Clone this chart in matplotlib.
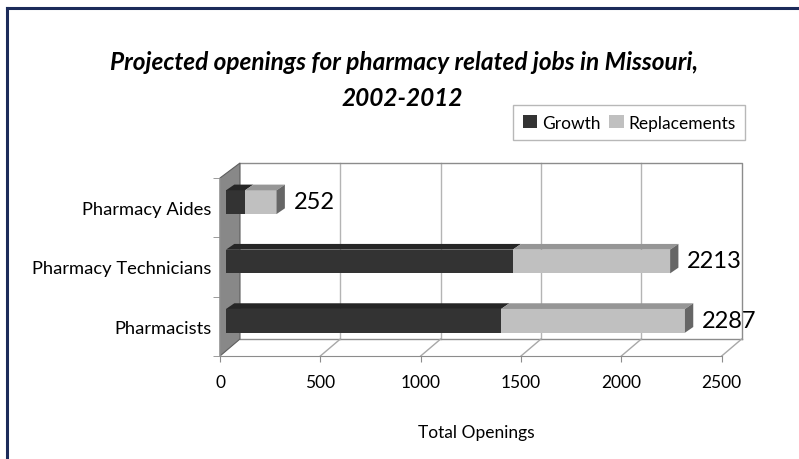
import matplotlib
matplotlib.use("Agg")
import matplotlib.pyplot as plt
import matplotlib.transforms as mtransforms
from matplotlib.patches import Polygon, Patch
from matplotlib.lines import Line2D

# ---- data ----
categories = ["Pharmacists", "Pharmacy Technicians", "Pharmacy Aides"]
growth = [1371, 1429, 95]
replacements = [916, 784, 157]
totals = [2287, 2213, 252]
xticks = [0, 500, 1000, 1500, 2000, 2500]
title_lines = ["Projected openings for pharmacy related jobs in Missouri,", "2002-2012"]
xlabel = "Total Openings"
series_names = ["Growth", "Replacements"]

plt.rcParams['font.family'] = ['Lato', 'DejaVu Sans']

W, H = 799, 460
fig = plt.figure(figsize=(W / 100, H / 100), dpi=100)
fig.patch.set_facecolor('white')

ax = fig.add_axes([220 / W, 1 - 357 / H, 501.7 / W, 178 / H])
ax.set_xlim(0, 2500)
ax.set_ylim(-0.5, 2.5)
ax.set_facecolor('none')

ident = mtransforms.IdentityTransform()


def P(x, y, dx=0.0, dy=0.0):
    px, py = ax.transData.transform((x, y))
    return (px + dx, py + dy)


def back(y):
    # depth offset of back wall (pixels)
    return 20.0, 17.0 - 2.0 * (y + 0.5) / 3.0


ymin, ymax = -0.5, 2.5
bdx0, bdy0 = back(ymin)
bdx1, bdy1 = back(ymax)

# back wall
ax.add_patch(Polygon([P(0, ymin, bdx0, bdy0), P(2500, ymin, bdx0, bdy0),
                      P(2500, ymax, bdx1, bdy1), P(0, ymax, bdx1, bdy1)],
                     closed=True, transform=ident, facecolor='white',
                     edgecolor='none', clip_on=False, zorder=0.5))
# gridlines on back wall
for t in xticks[1:-1]:
    ax.add_line(Line2D(*zip(P(t, ymin, bdx0, bdy0), P(t, ymax, bdx1, bdy1)),
                       transform=ident, color='#b4b4b4', lw=1.0, clip_on=False, zorder=0.6))
# back wall outline (top & right)
ax.add_line(Line2D(*zip(P(0, ymax, bdx1, bdy1), P(2500, ymax, bdx1, bdy1),
                        P(2500, ymin, bdx0, bdy0)),
                   transform=ident, color='#8c8c8c', lw=1.0, clip_on=False, zorder=0.7))
# floor: back line, diagonals
ax.add_line(Line2D(*zip(P(0, ymin, bdx0, bdy0), P(2500, ymin, bdx0, bdy0)),
                   transform=ident, color='#8c8c8c', lw=1.0, clip_on=False, zorder=0.7))
for t in xticks[1:]:
    ax.add_line(Line2D(*zip(P(t, ymin), P(t, ymin, bdx0, bdy0)),
                       transform=ident, color='#a8a8a8', lw=1.0, clip_on=False, zorder=0.7))

# left side wall
ax.add_patch(Polygon([P(0, ymin), P(0, ymin, bdx0, bdy0), P(0, ymax, bdx1, bdy1), P(0, ymax)],
                     closed=True, transform=ident, facecolor='#888888',
                     edgecolor='#5e5e5e', lw=0.8, clip_on=False, zorder=1))

# ---- bars ----
fdx, fdy = 6.0, 5.5      # bar front face offset (px)
bdx, bdy = 14.3, 11.2    # bar back face offset (px)
bh = 0.4
face_off = ax.transData + mtransforms.ScaledTranslation(fdx / 100, fdy / 100, fig.dpi_scale_trans)
ypos = list(range(len(categories)))

front_cols = ['#333333', '#c0c0c0']
top_cols = ['#262626', '#969696']
side_col = '#666666'

lefts = [0] * len(categories)
for si, vals in enumerate([growth, replacements]):
    ax.barh(ypos, vals, height=bh, left=lefts, color=front_cols[si],
            transform=face_off, clip_on=False, zorder=3, linewidth=0)
    for i, (l, v) in enumerate(zip(lefts, vals)):
        yt = ypos[i] + bh / 2
        ax.add_patch(Polygon([P(l, yt, fdx, fdy), P(l + v, yt, fdx, fdy),
                              P(l + v, yt, bdx, bdy), P(l, yt, bdx, bdy)],
                             closed=True, transform=ident, facecolor=top_cols[si],
                             edgecolor='none', clip_on=False, zorder=3))
    lefts = [l + v for l, v in zip(lefts, vals)]

# right end faces
for i, t in enumerate(lefts):
    yb, yt = ypos[i] - bh / 2, ypos[i] + bh / 2
    ax.add_patch(Polygon([P(t, yb, fdx, fdy), P(t, yt, fdx, fdy),
                          P(t, yt, bdx, bdy), P(t, yb, bdx, bdy)],
                         closed=True, transform=ident, facecolor=side_col,
                         edgecolor='none', clip_on=False, zorder=3))

# value labels
lab_off = ax.transData + mtransforms.ScaledTranslation((fdx + 17) / 100, (fdy + 0.5) / 100,
                                                       fig.dpi_scale_trans)
for i, t in enumerate(totals):
    ax.text(lefts[i], ypos[i], str(t), transform=lab_off, ha='left', va='center',
            fontsize=17, color='black', clip_on=False, zorder=4)

# ---- axes styling ----
for s in ['top', 'right']:
    ax.spines[s].set_visible(False)
ax.spines['bottom'].set_color('#8c8c8c')
ax.spines['left'].set_color('#8c8c8c')
ax.spines['bottom'].set_zorder(2)
ax.spines['left'].set_zorder(2)

ax.set_xticks(xticks)
ax.set_xticklabels([str(t) for t in xticks])
ax.tick_params(axis='x', length=4, color='#8c8c8c', pad=9, labelsize=12.5)
ax.set_yticks(ypos)
ax.set_yticklabels(categories)
ax.tick_params(axis='y', which='major', length=0, pad=6, labelsize=13.2)
ax.set_yticks([-0.5, 0.5, 1.5, 2.5], minor=True)
ax.tick_params(axis='y', which='minor', length=5, color='#8c8c8c')

ax.set_xlabel(xlabel, fontsize=12.5, labelpad=0)
ax.xaxis.set_label_coords((476.7 - 220) / 501.7, -(433 - 357) / 178)
ax.xaxis.label.set_va('center')

# title
fig.text(404 / W, 1 - 62 / H, title_lines[0], ha='center', va='center',
         fontsize=17.6, fontweight='bold', fontstyle='italic')
fig.text(402 / W, 1 - 98 / H, title_lines[1], ha='center', va='center',
         fontsize=17.6, fontweight='bold', fontstyle='italic')

# legend
handles = [Patch(facecolor=front_cols[0], edgecolor='none'),
           Patch(facecolor=front_cols[1], edgecolor='none')]
leg = fig.legend(handles, series_names, loc='center', ncol=2,
                 bbox_to_anchor=(629 / W, 1 - 123.5 / H), fontsize=12.5,
                 frameon=True, fancybox=False, edgecolor='#a6a6a6',
                 handlelength=0.85, handleheight=0.85, handletextpad=0.25,
                 columnspacing=0.5, borderpad=0.55, borderaxespad=0)
leg.get_frame().set_linewidth(1.0)

# outer frame (top & left)
fig.add_artist(Line2D([7 / W, 7 / W], [0, 1 - 9 / H], transform=fig.transFigure,
                      color='#1c2b5a', lw=2.2))
fig.add_artist(Line2D([7 / W, 1], [1 - 9 / H, 1 - 9 / H], transform=fig.transFigure,
                      color='#1c2b5a', lw=2.2))

fig.savefig('out.png', dpi=100)
